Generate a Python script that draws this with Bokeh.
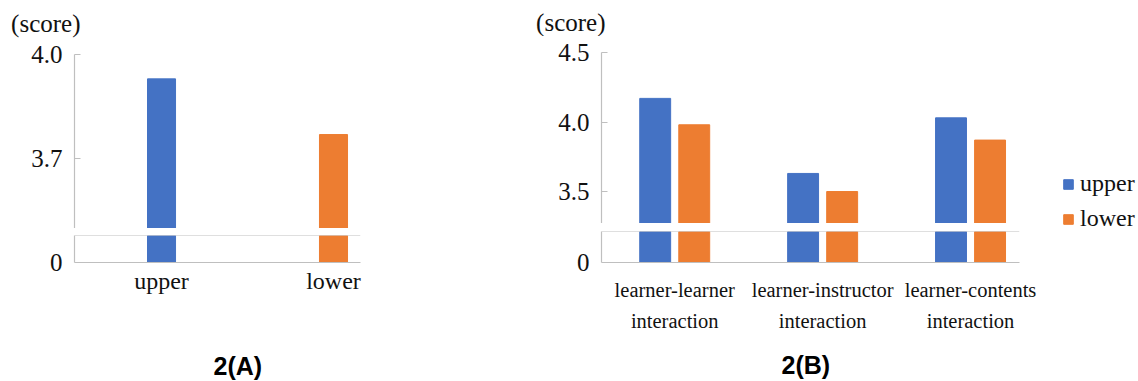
import numpy as np
from bokeh.plotting import figure
from bokeh.layouts import row, column
from bokeh.models import (FixedTicker, Span, Title, Legend, LegendItem,
                          Range1d, NumeralTickFormatter)
from bokeh.embed import file_html
from bokeh.resources import INLINE

# ---- data -------------------------------------------------------------
groups_a = ["upper", "lower"]
scores_a = [3.93, 3.77]
ticks_a = [3.7, 4.0]

topics_b = ["learner-learner\ninteraction",
            "learner-instructor\ninteraction",
            "learner-contents\ninteraction"]
upper_b = [4.17, 3.63, 4.03]
lower_b = [3.98, 3.50, 3.87]
ticks_b = [3.5, 4.0, 4.5]

series = ["upper", "lower"]
unit_label = "(score)"

# ---- style ------------------------------------------------------------
BLUE, ORANGE = "#4472C4", "#ED7D31"
LINE = "#bfbfbf"
SERIF = "Liberation Serif"
SANS = "Liberation Sans"
INK = "#111111"


def make_fig(fw, fh, x_range, y_range, top, left, right, xaxis, yaxis=True):
    p = figure(frame_width=fw, frame_height=fh, x_range=x_range, y_range=y_range,
               output_backend="svg", toolbar_location=None,
               x_axis_location="below" if xaxis else None,
               y_axis_location="left" if yaxis else None,
               min_border_top=top, min_border_bottom=0,
               min_border_left=left, min_border_right=right)
    p.outline_line_color = None
    p.grid.visible = False
    p.background_fill_color = "white"
    p.border_fill_color = "white"
    return p


def style_y(p, ticks, tick_in, fmt=None, overrides=None):
    ax = p.yaxis[0]
    ax.ticker = FixedTicker(ticks=ticks)
    if fmt:
        ax.formatter = NumeralTickFormatter(format=fmt)
    if overrides:
        ax.major_label_overrides = overrides
    ax.axis_line_color = LINE
    ax.axis_line_width = 1.2
    ax.major_tick_line_color = LINE
    ax.major_tick_line_width = 1.2
    ax.major_tick_in = tick_in
    ax.major_tick_out = 0
    ax.minor_tick_line_color = None
    ax.major_label_standoff = 12
    ax.major_label_text_font = SERIF
    ax.major_label_text_font_size = "25px"
    ax.major_label_text_color = INK


def style_x(p, labels, standoff, font_size):
    ax = p.xaxis[0]
    ax.ticker = FixedTicker(ticks=list(range(len(labels))))
    ax.major_label_overrides = {i: lab for i, lab in enumerate(labels)}
    ax.axis_line_color = LINE
    ax.axis_line_width = 1.2
    ax.major_tick_line_color = None
    ax.minor_tick_line_color = None
    ax.major_label_standoff = standoff
    ax.major_label_text_font = SERIF
    ax.major_label_text_font_size = font_size
    ax.major_label_text_color = INK
    ax.major_label_text_line_height = 1.45


def header(fw, fh, left, right, standoff):
    # strip above a chart: its bare value axis carries the unit note
    h = make_fig(fw, fh, Range1d(0, 1), Range1d(0, fh), 0, left, right, False)
    ax = h.yaxis[0]
    ax.ticker = FixedTicker(ticks=[fh - 23])
    ax.major_label_overrides = {fh - 23: unit_label}
    ax.axis_line_color = None
    ax.major_tick_line_color = None
    ax.minor_tick_line_color = None
    ax.major_label_standoff = standoff
    ax.major_label_text_font = SERIF
    ax.major_label_text_font_size = "25px"
    ax.major_label_text_color = INK
    return h


def caption(p, text, offset, standoff):
    p.add_layout(Title(text=text, align="left", offset=offset,
                       text_font=SANS, text_font_size="25px",
                       text_font_style="bold", text_color="#000000",
                       standoff=standoff), "below")


def break_line(p, y):
    p.add_layout(Span(location=y, dimension="width",
                      line_color=LINE, line_width=1.2))


# ---- chart 2(A): broken value axis, two stacked panels ---------------
xa = Range1d(-0.506, 1.157)
xs_a = list(range(len(groups_a)))
colors_a = [BLUE, ORANGE]

ha = header(286, 38, 74, 110, -12)

ta = make_fig(286, 174, xa, Range1d(3.5, 4.0), 16, 74, 110, False)
ta.vbar(x=xs_a, top=scores_a, bottom=0, width=0.163, color=colors_a)
style_y(ta, ticks_a, 6, fmt="0.0")
break_line(ta, 3.5)

ba = make_fig(286, 27, xa, Range1d(0, 1), 7, 74, 110, True)
ba.vbar(x=xs_a, top=scores_a, bottom=0, width=0.163, color=colors_a)
style_y(ba, [0], 0, overrides={0: "0"})
style_x(ba, groups_a, -1, "24px")
break_line(ba, 1)
caption(ba, "2(A)", 139, 106)

# ---- chart 2(B) -------------------------------------------------------
xb = Range1d(-0.495, 2.331)
idx_b = np.arange(len(topics_b))
dodge, bw = 0.132, 0.209

hb = header(418, 36, 131, 30, -10)

tb = make_fig(418, 171, xb, Range1d(3.27, 4.5), 16, 131, 30, False)
tb.vbar(x=idx_b - dodge, top=upper_b, bottom=0, width=bw, color=BLUE)
tb.vbar(x=idx_b + dodge, top=lower_b, bottom=0, width=bw, color=ORANGE)
style_y(tb, ticks_b, 6, fmt="0.0")
break_line(tb, 3.27)

bb = make_fig(418, 31, xb, Range1d(0, 1), 8, 131, 30, True)
bb.vbar(x=idx_b - dodge, top=upper_b, bottom=0, width=bw, color=BLUE)
bb.vbar(x=idx_b + dodge, top=lower_b, bottom=0, width=bw, color=ORANGE)
style_y(bb, [0], 0, overrides={0: "0"})
style_x(bb, topics_b, 10, "20.5px")
break_line(bb, 1)
caption(bb, "2(B)", 180, 26)

# ---- series key for 2(B), in its own narrow panel ---------------------
# key swatches sit outside the panel's visible range; only the legend shows them
lg = make_fig(89, 381, Range1d(0, 1), Range1d(0, 1), 0, 0, 0, False, False)
keys = [lg.vbar(x=[5], top=[0.5], width=0.1, color=c) for c in (BLUE, ORANGE)]
legend = Legend(items=[LegendItem(label=s, renderers=[k]) for s, k in zip(series, keys)],
                location=(13, 149), orientation="vertical",
                glyph_width=12, glyph_height=12, label_standoff=6,
                label_height=24, spacing=8, padding=0, margin=0,
                border_line_color=None, background_fill_alpha=0,
                label_text_font=SERIF, label_text_font_size="24px",
                label_text_color=INK)
lg.add_layout(legend)

layout = row(column(ha, ta, ba, spacing=0),
             column(hb, tb, bb, spacing=0),
             lg, spacing=0)

with open("out.html", "w") as f:
    f.write(file_html(layout, INLINE))
